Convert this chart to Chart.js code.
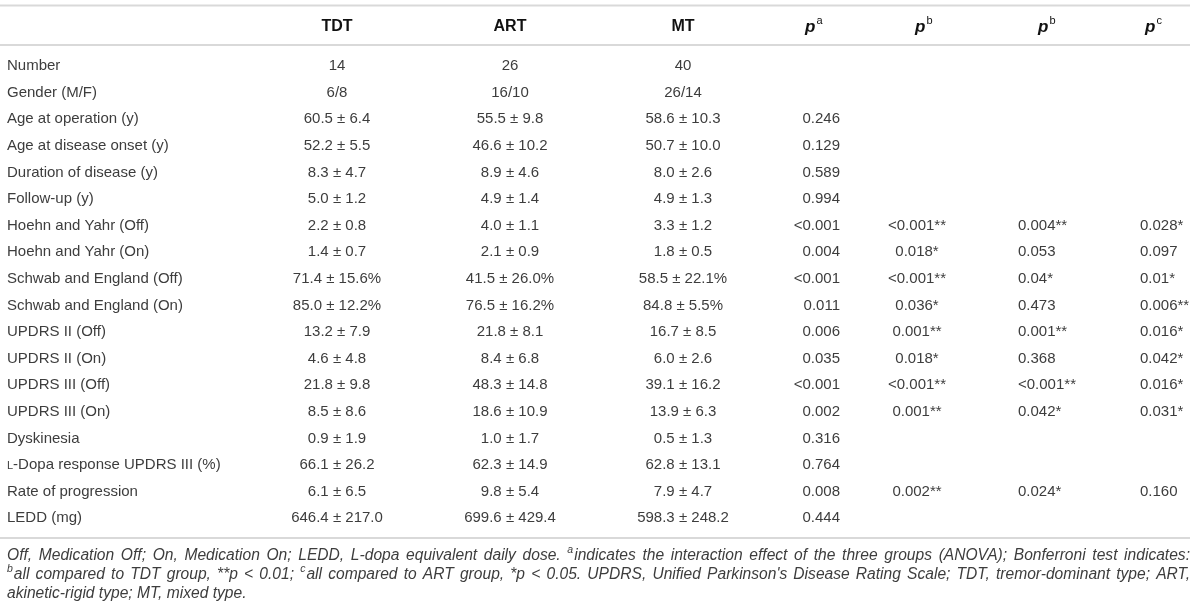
<!DOCTYPE html>
<html>
<head>
<meta charset="utf-8">
<script src="https://cdn.jsdelivr.net/npm/chart.js@4.4.1/dist/chart.umd.min.js"></script>
<style>
  html, body { margin: 0; padding: 0; background: #fff; }
  #wrap { width: 1200px; height: 612px; position: relative; }
</style>
</head>
<body>
<div id="wrap"><canvas id="tabla"></canvas></div>
<script>
// Datos de la tabla
const rowLabels = ["Number", "Gender (M/F)", "Age at operation (y)", "Age at disease onset (y)",
    "Duration of disease (y)", "Follow-up (y)", "Hoehn and Yahr (Off)", "Hoehn and Yahr (On)",
    "Schwab and England (Off)", "Schwab and England (On)", "UPDRS II (Off)", "UPDRS II (On)",
    "UPDRS III (Off)", "UPDRS III (On)", "Dyskinesia", "L-Dopa response UPDRS III (%)",
    "Rate of progression", "LEDD (mg)"];
const headers = ["", "TDT", "ART", "MT", "p^a", "p^b", "p^b", "p^c"];
const tdt = ["14", "6/8", "60.5 ± 6.4", "52.2 ± 5.5", "8.3 ± 4.7", "5.0 ± 1.2", "2.2 ± 0.8", "1.4 ± 0.7",
    "71.4 ± 15.6%", "85.0 ± 12.2%", "13.2 ± 7.9", "4.6 ± 4.8", "21.8 ± 9.8", "8.5 ± 8.6",
    "0.9 ± 1.9", "66.1 ± 26.2", "6.1 ± 6.5", "646.4 ± 217.0"];
const art = ["26", "16/10", "55.5 ± 9.8", "46.6 ± 10.2", "8.9 ± 4.6", "4.9 ± 1.4", "4.0 ± 1.1", "2.1 ± 0.9",
    "41.5 ± 26.0%", "76.5 ± 16.2%", "21.8 ± 8.1", "8.4 ± 6.8", "48.3 ± 14.8", "18.6 ± 10.9",
    "1.0 ± 1.7", "62.3 ± 14.9", "9.8 ± 5.4", "699.6 ± 429.4"];
const mt = ["40", "26/14", "58.6 ± 10.3", "50.7 ± 10.0", "8.0 ± 2.6", "4.9 ± 1.3", "3.3 ± 1.2", "1.8 ± 0.5",
    "58.5 ± 22.1%", "84.8 ± 5.5%", "16.7 ± 8.5", "6.0 ± 2.6", "39.1 ± 16.2", "13.9 ± 6.3",
    "0.5 ± 1.3", "62.8 ± 13.1", "7.9 ± 4.7", "598.3 ± 248.2"];
const pA = ["", "", "0.246", "0.129", "0.589", "0.994", "<0.001", "0.004", "<0.001", "0.011",
    "0.006", "0.035", "<0.001", "0.002", "0.316", "0.764", "0.008", "0.444"];
const pB1 = ["", "", "", "", "", "", "<0.001**", "0.018*", "<0.001**", "0.036*",
    "0.001**", "0.018*", "<0.001**", "0.001**", "", "", "0.002**", ""];
const pB2 = ["", "", "", "", "", "", "0.004**", "0.053", "0.04*", "0.473",
    "0.001**", "0.368", "<0.001**", "0.042*", "", "", "0.024*", ""];
const pC = ["", "", "", "", "", "", "0.028*", "0.097", "0.01*", "0.006**",
    "0.016*", "0.042*", "0.016*", "0.031*", "", "", "0.160", ""];
const footnote = [
    "Off, Medication Off; On, Medication On; LEDD, L-dopa equivalent daily dose. ^aindicates the interaction effect of the three groups (ANOVA); Bonferroni test indicates:",
    "^ball compared to TDT group, **p < 0.01; ^call compared to ART group, *p < 0.05. UPDRS, Unified Parkinson's Disease Rating Scale; TDT, tremor-dominant type; ART,",
    "akinetic-rigid type; MT, mixed type."
];

// Disposición (no son datos)
const columns = [rowLabels, tdt, art, mt, pA, pB1, pB2, pC];
const colX = [7, 337, 510, 683, 840, 917, 1018, 1140];
const colAlign = ["left", "center", "center", "center", "right", "center", "left", "left"];
const headX = [0, 337, 510, 683, 805, 915, 1038, 1145];
const FONT = "'Liberation Sans', Arial, sans-serif";

document.addEventListener("DOMContentLoaded", () => {
    const ctx = document.getElementById("tabla").getContext("2d");

    // Dibuja texto con superíndices marcados con ^
    function drawRich(c, text, x, y, size, style, supSize) {
        const parts = text.split(/(\^.)/);
        for (const part of parts) {
            if (!part) continue;
            if (part[0] === "^") {
                c.font = `${style} ${supSize}px ${FONT}`;
                c.fillText(part[1], x, y - size * 0.38);
                x += c.measureText(part[1]).width + 1;
            } else {
                c.font = `${style} ${size}px ${FONT}`;
                c.fillText(part, x, y);
                x += c.measureText(part).width;
            }
        }
        return x;
    }
    function richWidth(c, text, size, style, supSize) {
        let w = 0;
        for (const part of text.split(/(\^.)/)) {
            if (!part) continue;
            if (part[0] === "^") {
                c.font = `${style} ${supSize}px ${FONT}`;
                w += c.measureText(part[1]).width + 1;
            } else {
                c.font = `${style} ${size}px ${FONT}`;
                w += c.measureText(part).width;
            }
        }
        return w;
    }

    const tablaPlugin = {
        id: "tabla",
        afterDatasetsDraw(chart) {
            const c = chart.ctx;
            const ys = chart.scales.y;
            const xs = chart.scales.x;
            c.save();

            // Reglas horizontales
            c.strokeStyle = "#d9d9d9";
            c.lineWidth = 2;
            [-2.27, -0.79, 17.74].forEach(v => {
                const yy = ys.getPixelForValue(v);
                c.beginPath();
                c.moveTo(xs.getPixelForValue(0), yy);
                c.lineTo(xs.getPixelForValue(1190), yy);
                c.stroke();
            });

            // Encabezados
            c.textBaseline = "middle";
            c.fillStyle = "#111";
            const hy = ys.getPixelForValue(-1.5);
            headers.forEach((h, i) => {
                if (!h) return;
                const hx = xs.getPixelForValue(headX[i]);
                if (h.startsWith("p^")) {
                    c.font = `italic bold 17px ${FONT}`;
                    c.textAlign = "left";
                    c.fillText("p", hx, hy + 1);
                    const pw = c.measureText("p").width;
                    c.font = `11px ${FONT}`;
                    c.fillText(h[2], hx + pw + 1, hy - 5);
                } else {
                    c.font = `bold 16px ${FONT}`;
                    c.textAlign = "center";
                    c.fillText(h, hx, hy);
                }
            });

            // Celdas, en la posición de cada punto
            c.fillStyle = "#3d3d3d";
            chart.data.datasets.forEach((ds, di) => {
                const meta = chart.getDatasetMeta(di);
                meta.data.forEach((pt, ri) => {
                    const txt = ds.texts[ri];
                    if (!txt) return;
                    c.textAlign = colAlign[di];
                    if (di === 0 && txt.startsWith("L-Dopa")) {
                        c.textAlign = "left";
                        c.font = `11px ${FONT}`;
                        c.fillText("L", pt.x, pt.y + 1);
                        const lw = c.measureText("L").width;
                        c.font = `15px ${FONT}`;
                        c.fillText(txt.slice(1), pt.x + lw, pt.y);
                        return;
                    }
                    c.font = `15px ${FONT}`;
                    c.fillText(txt, pt.x, pt.y);
                });
            });

            // Nota al pie, justificada
            c.textAlign = "left";
            c.fillStyle = "#3d3d3d";
            const fs = 15.6;
            const left = xs.getPixelForValue(7);
            const right = xs.getPixelForValue(1190);
            const baseY = ys.getPixelForValue(17.74) + 18;
            footnote.forEach((line, li) => {
                const words = line.split(" ");
                const widths = words.map(w => richWidth(c, w, fs, "italic", 10.5));
                const total = widths.reduce((a, b) => a + b, 0);
                c.font = `italic ${fs}px ${FONT}`;
                let gap = c.measureText(" ").width;
                if (li < footnote.length - 1) gap = (right - left - total) / (words.length - 1);
                let x = left;
                const y = baseY + li * 19;
                words.forEach((w, wi) => {
                    drawRich(c, w, x, y, fs, "italic", 10.5);
                    x += widths[wi] + gap;
                });
            });
            c.restore();
        }
    };

    const datasets = columns.map((col, ci) => ({
        label: headers[ci],
        texts: col,
        data: col.map((_, ri) => ({ x: colX[ci], y: ri })),
        pointRadius: 0,
        pointHoverRadius: 0,
        showLine: false
    }));

    new Chart(ctx, {
        type: "scatter",
        data: { datasets },
        options: {
            responsive: true,
            maintainAspectRatio: false,
            animation: false,
            layout: { padding: 0 },
            events: [],
            scales: {
                x: { type: "linear", display: false, min: 0, max: 1200 },
                y: { type: "linear", display: false, reverse: true, min: -66 / 26.6, max: (612 - 66) / 26.6 }
            },
            plugins: {
                legend: { display: false },
                tooltip: { enabled: false }
            }
        },
        plugins: [tablaPlugin]
    });
});
</script>
</body>
</html>
